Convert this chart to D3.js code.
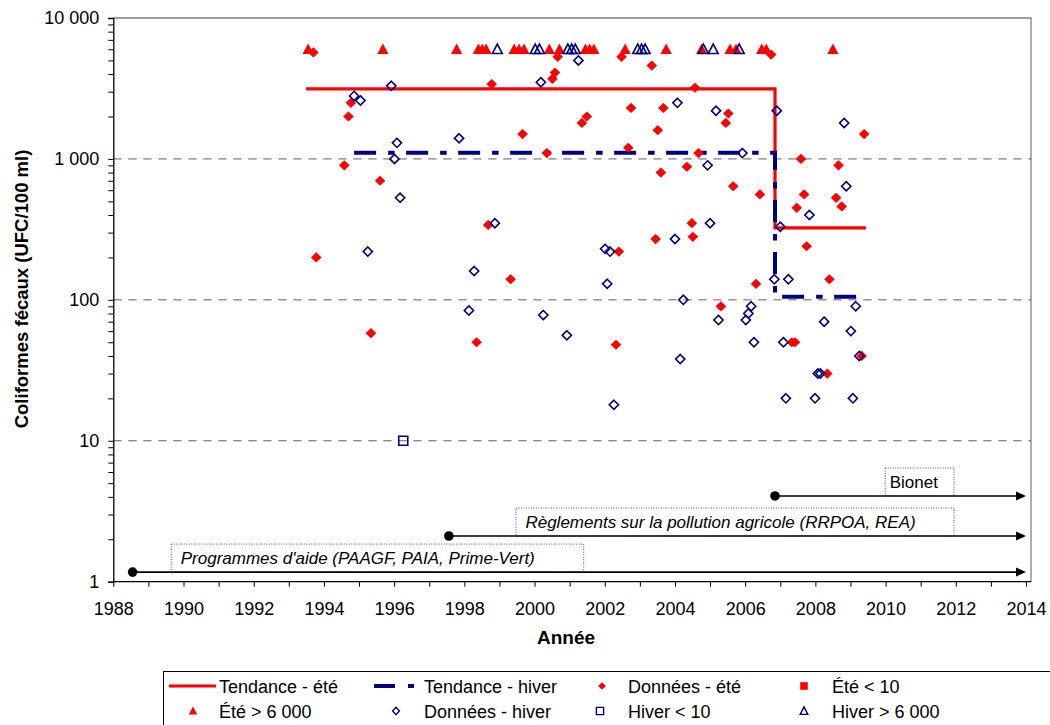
<!DOCTYPE html>
<html>
<head>
<meta charset="utf-8">
<script src="https://cdn.jsdelivr.net/npm/d3@7"></script>
<style>
  body { margin: 0; background: #fff; }
  svg { display: block; }
  text { font-family: "Liberation Sans", Arial, sans-serif; fill: #000; }
</style>
</head>
<body>
<svg id="chart" width="1050" height="725"></svg>
<script>
// ---- Axis ticks and labels ----
const yearTicks = d3.range(1988, 2015);
const yearLabels = [1988, 1990, 1992, 1994, 1996, 1998, 2000, 2002, 2004, 2006, 2008, 2010, 2012, 2014];
const valueTicks = [1, 10, 100, 1000, 10000];
const valueLabels = ["1", "10", "100", "1 000", "10 000"];
const gridValues = [10, 100, 1000];

// ---- Trend lines (step means before / after 2006) ----
const trendEteYears = [1993.49, 2006.85, 2006.85, 2009.44];
const trendEteValues = [3140, 3140, 324, 324];
const trendHiverYears = [1994.86, 2006.85, 2006.85, 2009.27];
const trendHiverValues = [1104, 1104, 105, 105];

// ---- Summer samples (UFC/100 ml) ----
const eteYears = [1993.70, 1993.78, 1994.58, 1994.70, 1994.77, 1995.34, 1995.60, 1998.35, 1998.68, 1998.78,
  1999.32, 1999.66, 2000.35, 2000.51, 2000.58, 2000.66, 2001.35, 2001.49, 2002.32, 2002.40,
  2002.48, 2002.67, 2002.75, 2003.34, 2003.45, 2003.51, 2003.60, 2003.67, 2004.34, 2004.48,
  2004.51, 2004.57, 2004.67, 2005.31, 2005.45, 2005.52, 2005.66, 2006.31, 2006.42, 2006.74,
  2007.33, 2007.42, 2007.47, 2007.59, 2007.68, 2007.75, 2008.34, 2008.40, 2008.59, 2008.66,
  2008.75, 2009.32, 2009.39];
const eteValues = [5700, 200, 900, 2000, 2500, 58, 700, 50, 340, 3400,
  140, 1500, 1100, 3700, 4100, 5300, 1800, 2000, 48, 220,
  5300, 1200, 2300, 4600, 270, 1600, 800, 2300, 880, 350,
  280, 3200, 1100, 90, 1800, 2100, 640, 130, 560, 5500,
  50, 50, 450, 1000, 560, 240, 30, 140, 530, 900,
  460, 40, 1500];

// Summer samples below detection (< 10): none in this record
const eteLowYears = [];
const eteLowValues = [];

// Summer samples above 6 000 (plotted at the 6 000 cap)
const eteHighYears = [1993.55, 1995.68, 1997.78, 1998.40, 1998.51, 1998.62, 1999.42, 1999.56, 1999.70,
  2000.42, 2000.71, 2001.45, 2001.57, 2001.69, 2002.58, 2003.75, 2004.76, 2005.57, 2005.74,
  2006.47, 2006.60, 2008.50];
const eteHighValues = eteHighYears.map(() => 6000);

// ---- Winter samples (UFC/100 ml) ----
const hiverYears = [1994.86, 1995.04, 1995.25, 1995.92, 1996.01, 1996.08, 1996.17, 1997.85, 1998.13, 1998.28,
  1998.87, 2000.18, 2000.25, 2000.92, 2001.25, 2002.01, 2002.07, 2002.15, 2002.26, 2004.00,
  2004.07, 2004.15, 2004.24, 2004.93, 2005.00, 2005.17, 2005.24, 2005.92, 2006.02, 2006.09,
  2006.17, 2006.25, 2006.83, 2006.90, 2007.00, 2007.09, 2007.16, 2007.23, 2007.83, 2007.99,
  2008.07, 2008.14, 2008.25, 2008.82, 2008.88, 2009.01, 2009.07, 2009.15, 2009.25];
const hiverValues = [2800, 2600, 220, 3300, 1000, 1300, 530, 1400, 84, 160,
  350, 3500, 78, 56, 5000, 230, 130, 220, 18, 270,
  2500, 38, 100, 900, 350, 2200, 72, 1100, 72, 80,
  90, 50, 140, 2200, 330, 50, 20, 140, 400, 20,
  30, 30, 70, 1800, 640, 60, 20, 90, 40];

// Winter samples below 10 (plotted at 10)
const hiverLowYears = [1996.26];
const hiverLowValues = [10];

// Winter samples above 6 000 (plotted at the 6 000 cap)
const hiverHighYears = [1998.94, 2000.02, 2000.14, 2000.95, 2001.06, 2001.16, 2002.94, 2003.05, 2003.15,
  2004.81, 2005.09, 2005.83];
const hiverHighValues = hiverHighYears.map(() => 6000);

// ---- Programme timeline ----
const programLabels = ["Programmes d'aide (PAAGF, PAIA, Prime-Vert)",
  "Règlements sur la pollution agricole (RRPOA, REA)", "Bionet"];
const programStartYears = [1988.55, 1997.56, 2006.85];
const programEndYears = [2014, 2014, 2014];
const programLevels = [1.17, 2.11, 4.06];
const programBoxStart = [1989.65, 1999.47, 2009.99];
const programBoxEnd = [2001.4, 2011.95, 2011.95];
const programItalic = [true, true, false];

// ---- Layout ----
const svg = d3.select("#chart");
const plot = { left: 113.3, right: 1031, top: 18, bottom: 581.7 };
const x = d3.scaleLinear().domain([1988, 2014]).range([113.3, 1026]);
const y = d3.scaleLog().domain([1, 10000]).range([plot.bottom, plot.top]);

const RED = "#ff0000";
const NAVY = "#000080";

// Plot frame (top / right edges)
svg.append("path")
  .attr("d", `M${plot.left},${plot.top}H${plot.right}V${plot.bottom}`)
  .attr("fill", "none").attr("stroke", "#808080").attr("stroke-width", 1.3);

// Horizontal dashed gridlines
svg.append("g").selectAll("line").data(gridValues).join("line")
  .attr("x1", plot.left).attr("x2", plot.right)
  .attr("y1", d => y(d)).attr("y2", d => y(d))
  .attr("stroke", "#606060").attr("stroke-width", 1)
  .attr("stroke-dasharray", "8.3 6.7");

// Y axis (log, with minor ticks)
const yMinor = [];
for (let e = 0; e < 4; e++) for (let m = 1; m <= 9; m++) yMinor.push(m * Math.pow(10, e));
yMinor.push(10000);
const yAxis = d3.axisLeft(y).tickValues(yMinor).tickSize(5).tickPadding(9)
  .tickFormat(d => { const i = valueTicks.indexOf(d); return i >= 0 ? valueLabels[i] : ""; });
const gy = svg.append("g").attr("transform", `translate(${plot.left},0)`).call(yAxis);
gy.select(".domain").attr("stroke", "#000").attr("stroke-width", 1.3);
gy.selectAll(".tick line").attr("stroke", "#000");
gy.selectAll("text").style("font-size", "18px").attr("font-family", null);

// X axis (years)
const xAxis = d3.axisBottom(x).tickValues(yearTicks).tickSize(5).tickPadding(16)
  .tickFormat(d => yearLabels.includes(d) ? String(d) : "");
const gx = svg.append("g").attr("transform", `translate(0,${plot.bottom})`).call(xAxis);
gx.select(".domain").attr("d", `M${plot.left},0H${plot.right}`).attr("stroke", "#000").attr("stroke-width", 1.3);
gx.selectAll(".tick line").attr("stroke", "#000");
gx.selectAll("text").style("font-size", "18px").attr("font-family", null);

// Axis titles
svg.append("text").attr("x", 566).attr("y", 644).attr("text-anchor", "middle")
  .style("font-size", "19px").style("font-weight", "bold").text("Année");
svg.append("text").attr("transform", "translate(28,289) rotate(-90)").attr("text-anchor", "middle")
  .style("font-size", "18.5px").style("font-weight", "bold").text("Coliformes fécaux (UFC/100 ml)");

// Programme timeline arrows and labels
const tl = svg.append("g");
programLabels.forEach((label, i) => {
  const yy = y(programLevels[i]);
  const x0 = x(programStartYears[i]);
  const x1 = x(programEndYears[i]);
  const bx0 = x(programBoxStart[i]);
  const bx1 = x(programBoxEnd[i]);
  tl.append("rect").attr("x", bx0).attr("y", yy - 28).attr("width", bx1 - bx0).attr("height", 28)
    .attr("fill", "#fff").attr("stroke", "#555").attr("stroke-width", 1).attr("stroke-dasharray", "1 1.5");
  tl.append("line").attr("x1", x0).attr("x2", x1 - 8).attr("y1", yy).attr("y2", yy)
    .attr("stroke", "#000").attr("stroke-width", 1.6);
  tl.append("path").attr("d", `M${x1},${yy}L${x1 - 10},${yy - 4.5}L${x1 - 10},${yy + 4.5}Z`).attr("fill", "#000");
  tl.append("circle").attr("cx", x0).attr("cy", yy).attr("r", 4.8).attr("fill", "#000");
  tl.append("text").attr("x", bx0 + (programItalic[i] ? 9.5 : 4.5)).attr("y", yy - 14 + 6.3)
    .style("font-size", "17px").style("font-style", programItalic[i] ? "italic" : "normal").text(label);
});

// Trend lines
const stepLine = d3.line().x(d => x(d[0])).y(d => y(d[1]));
svg.append("path").datum(d3.zip(trendEteYears, trendEteValues)).attr("d", stepLine)
  .attr("fill", "none").attr("stroke", RED).attr("stroke-width", 3.2);
svg.append("path").datum(d3.zip(trendHiverYears, trendHiverValues)).attr("d", stepLine)
  .attr("fill", "none").attr("stroke", NAVY).attr("stroke-width", 4)
  .attr("stroke-dasharray", "22 12 6.5 11.5");

// Marker shapes
const diamond = (w, h) => `M0,${-h}L${w},0L0,${h}L${-w},0Z`;
const triangle = (w, h) => `M0,${-h * 0.55}L${w},${h * 0.45}L${-w},${h * 0.45}Z`;
const square = (s) => `M${-s},${-s}H${s}V${s}H${-s}Z`;

function markers(years, values, shape, fill, stroke, sw) {
  svg.append("g").selectAll("path").data(d3.zip(years, values)).join("path")
    .attr("transform", d => `translate(${x(d[0])},${y(d[1])})`)
    .attr("d", shape)
    .attr("fill", fill).attr("stroke", stroke).attr("stroke-width", sw);
}
markers(eteYears, eteValues, diamond(5.3, 5.1), RED, "none", 0);
markers(eteLowYears, eteLowValues, square(4.5), RED, "none", 0);
markers(eteHighYears, eteHighValues, triangle(5.6, 10.5), RED, "none", 0);
markers(hiverYears, hiverValues, diamond(4.6, 4.6), "none", NAVY, 1.6);
markers(hiverLowYears, hiverLowValues, square(4.5), "none", NAVY, 1.6);
markers(hiverHighYears, hiverHighValues, triangle(5, 9.5), "none", NAVY, 1.6);

// Legend
const lg = svg.append("g");
lg.append("rect").attr("x", 163.5).attr("y", 671.5).attr("width", 920).attr("height", 70)
  .attr("fill", "#fff").attr("stroke", "#000").attr("stroke-width", 1);
const r1 = 686, r2 = 711;
lg.append("line").attr("x1", 169).attr("x2", 216).attr("y1", r1).attr("y2", r1)
  .attr("stroke", RED).attr("stroke-width", 3.2);
lg.append("line").attr("x1", 374).attr("x2", 414).attr("y1", r1).attr("y2", r1)
  .attr("stroke", NAVY).attr("stroke-width", 4).attr("stroke-dasharray", "21 13 6 40");
const legendMarks = [
  { cx: 602, cy: r1, d: diamond(3.8, 3.8), fill: RED, stroke: "none" },
  { cx: 804, cy: r1, d: square(3.8), fill: RED, stroke: "none" },
  { cx: 193, cy: r2, d: triangle(4.2, 8), fill: RED, stroke: "none" },
  { cx: 396, cy: r2, d: diamond(3.4, 3.8), fill: "none", stroke: NAVY },
  { cx: 600, cy: r2, d: square(3.6), fill: "none", stroke: NAVY },
  { cx: 804, cy: r2, d: triangle(3.8, 7.5), fill: "none", stroke: NAVY }
];
legendMarks.forEach(m => {
  lg.append("path").attr("transform", `translate(${m.cx},${m.cy})`).attr("d", m.d)
    .attr("fill", m.fill).attr("stroke", m.stroke).attr("stroke-width", 1.4);
});
const legendTexts = [
  ["Tendance - été", 219, r1], ["Tendance - hiver", 424, r1], ["Données - été", 628, r1], ["Été < 10", 832, r1],
  ["Été > 6 000", 219, r2], ["Données - hiver", 424, r2], ["Hiver < 10", 628, r2], ["Hiver > 6 000", 832, r2]
];
legendTexts.forEach(t => {
  lg.append("text").attr("x", t[1]).attr("y", t[2] + 6.5).style("font-size", "18px").text(t[0]);
});
</script>
</body>
</html>
